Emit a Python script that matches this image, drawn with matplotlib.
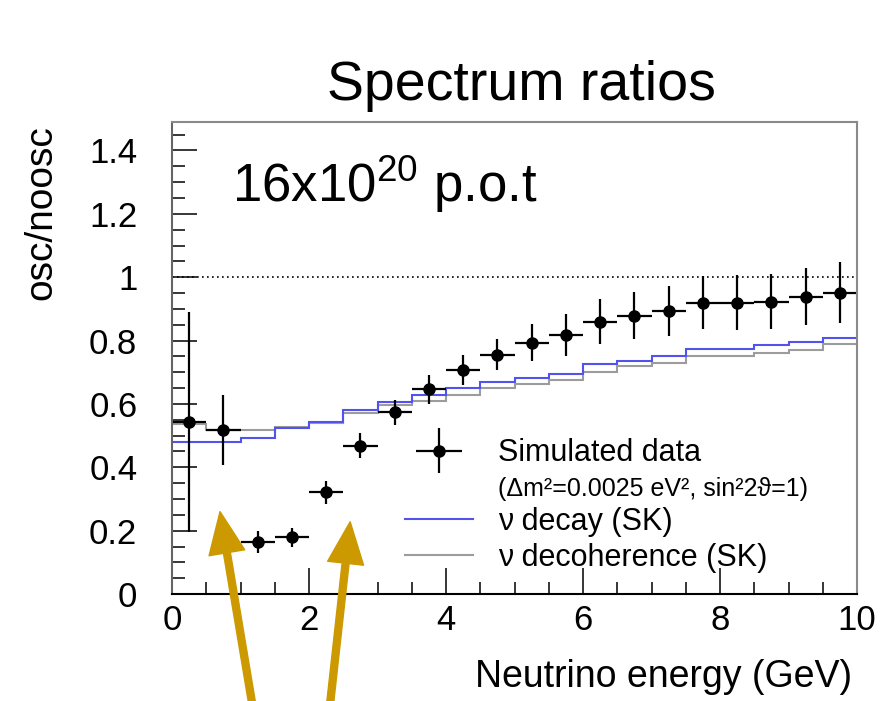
import matplotlib
matplotlib.use("Agg")
import matplotlib.pyplot as plt
from matplotlib.ticker import MultipleLocator, FixedLocator, FixedFormatter
from matplotlib.legend_handler import HandlerErrorbar
from matplotlib.container import ErrorbarContainer
from matplotlib.lines import Line2D

plt.rcParams['font.family'] = ['Liberation Sans', 'DejaVu Sans']
plt.rcParams['mathtext.fontset'] = 'custom'
plt.rcParams['mathtext.rm'] = 'Liberation Sans'
plt.rcParams['mathtext.default'] = 'regular'

# 0.5 GeV bins
bin_edges = [0, 0.5, 1, 1.5, 2, 2.5, 3, 3.5, 4, 4.5, 5,
             5.5, 6, 6.5, 7, 7.5, 8, 8.5, 9, 9.5, 10]
bin_centers = [0.25, 0.75, 1.25, 1.75, 2.25, 2.75, 3.25, 3.75, 4.25, 4.75,
               5.25, 5.75, 6.25, 6.75, 7.25, 7.75, 8.25, 8.75, 9.25, 9.75]

# simulated data (osc/noosc) and errors
sim_ratio = [0.542, 0.517, 0.164, 0.179, 0.321, 0.468, 0.574, 0.646, 0.706, 0.756,
             0.793, 0.818, 0.860, 0.878, 0.893, 0.920, 0.920, 0.922, 0.938, 0.951]
sim_err = [0.347, 0.11, 0.035, 0.03, 0.037, 0.04, 0.04, 0.045, 0.047, 0.05,
           0.058, 0.067, 0.072, 0.074, 0.08, 0.084, 0.087, 0.087, 0.09, 0.096]

# model curves
decay_ratio = [0.481, 0.481, 0.493, 0.524, 0.543, 0.580, 0.605, 0.627, 0.649, 0.669,
               0.681, 0.695, 0.727, 0.737, 0.751, 0.774, 0.774, 0.785, 0.795, 0.807]
decoh_ratio = [0.538, 0.519, 0.519, 0.527, 0.541, 0.572, 0.598, 0.609, 0.628, 0.650,
               0.664, 0.674, 0.700, 0.719, 0.729, 0.751, 0.751, 0.762, 0.770, 0.788]

y_ticks = [0, 0.2, 0.4, 0.6, 0.8, 1.0, 1.2, 1.4]
y_ticklabels = ['0', '0.2', '0.4', '0.6', '0.8', '1', '1.2', '1.4']

# arrows pointing at the low-energy dip (tip, tail) in data units
arrows = [((0.70, 0.26), (1.18, -0.36)),
          ((2.60, 0.228), (2.30, -0.36))]

blue = '#5252ee'
grey = '#9c9c9c'

fig = plt.figure(figsize=(8.87, 7.01), dpi=100)
ax = fig.add_axes([0.194, 0.1526, 0.7722, 0.6734])

ax.stairs(decoh_ratio, bin_edges, baseline=None, color=grey, lw=1.5)
ax.stairs(decay_ratio, bin_edges, baseline=None, color=blue, lw=1.5)
ax.axhline(1.0, color='black', ls=(0, (1, 2)), lw=1.2)
data = ax.errorbar(bin_centers, sim_ratio, xerr=0.25, yerr=sim_err, fmt='o',
                   color='black', ms=8, elinewidth=1.6, capsize=0)

ax.set_xlim(0, 10)
ax.set_ylim(0, 1.49)

ax.xaxis.set_major_locator(MultipleLocator(2))
ax.xaxis.set_minor_locator(MultipleLocator(0.5))
ax.yaxis.set_major_locator(FixedLocator(y_ticks))
ax.yaxis.set_major_formatter(FixedFormatter(y_ticklabels))
ax.yaxis.set_minor_locator(MultipleLocator(0.05))
ax.tick_params(axis='both', which='both', direction='in', top=False, right=False)
ax.tick_params(axis='x', which='major', length=19, width=1.1, labelsize=25, pad=7)
ax.tick_params(axis='x', which='minor', length=9, width=1.1)
ax.tick_params(axis='y', which='major', length=18, width=1.1, labelsize=25, pad=25)
ax.tick_params(axis='y', which='minor', length=9.5, width=1.1)

for side in ['top', 'right']:
    ax.spines[side].set_color('#8a8a8a')
    ax.spines[side].set_linewidth(1.5)
ax.spines['left'].set_color('#666666')
ax.spines['left'].set_linewidth(1.5)
ax.spines['bottom'].set_color('black')
ax.spines['bottom'].set_linewidth(1.5)

ax.text(-0.191, 0.994, 'osc/noosc', transform=ax.transAxes, rotation=90,
        ha='center', va='top', fontsize=28)
ax.text(0.993, -0.197, 'Neutrino energy (GeV)', transform=ax.transAxes,
        ha='right', va='baseline', fontsize=27)
fig.text(0.588, 1 - 100 / 701, 'Spectrum ratios', ha='center', va='baseline',
         fontsize=40)
ax.text(0.0876, 0.8305, r'16x10$^{20}$ p.o.t', transform=ax.transAxes,
        va='baseline', fontsize=38)

blank = Line2D([], [], linestyle='none')
decay_line = Line2D([], [], color=blue, lw=1.5)
decoh_line = Line2D([], [], color=grey, lw=1.5)
leg = ax.legend([data, blank, decay_line, decoh_line],
                ['Simulated data', '(Δm²=0.0025 eV², sin²2ϑ=1)',
                 'ν decay (SK)', 'ν decoherence (SK)'],
                loc='upper left', bbox_to_anchor=(0.340, 0.33), frameon=False,
                fontsize=22, handlelength=2.23, handletextpad=0.82,
                borderpad=0, borderaxespad=0, labelspacing=0.2,
                handler_map={ErrorbarContainer: HandlerErrorbar(xerr_size=0.75)})
leg.get_texts()[1].set_fontsize(18)

for tip, tail in arrows:
    ax.annotate('', xy=tip, xytext=tail, annotation_clip=False, zorder=10,
                arrowprops=dict(arrowstyle='simple,head_length=3.0,head_width=2.6,tail_width=0.5',
                                mutation_scale=10, color='#cc9900', shrinkA=0, shrinkB=0))

fig.savefig('out.png', dpi=100)
